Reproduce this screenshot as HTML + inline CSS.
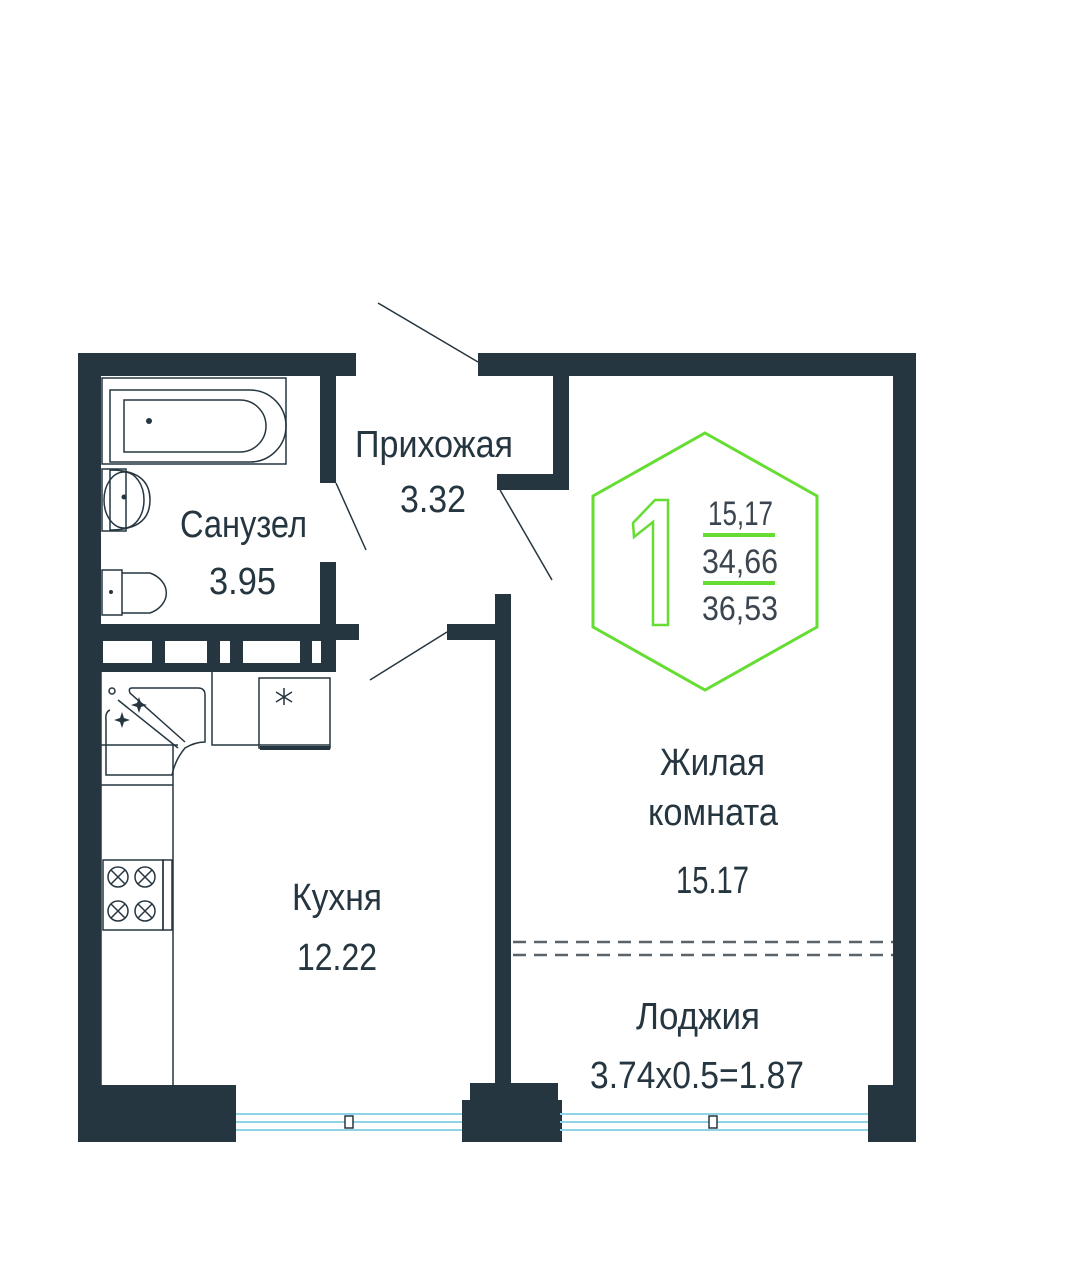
<!DOCTYPE html>
<html><head><meta charset="utf-8"><style>
html,body{margin:0;padding:0;background:#fff;}
svg{display:block}
text{font-family:"Liberation Sans Narrow","Liberation Sans",sans-serif;fill:#263640}
</style></head><body>
<svg width="1080" height="1285" viewBox="0 0 1080 1285" xmlns="http://www.w3.org/2000/svg">
<g fill="#263640">
<rect x="78" y="353" width="23" height="789"/>
<rect x="78" y="353" width="278" height="23"/>
<rect x="478" y="353" width="438" height="23"/>
<rect x="893" y="353" width="23" height="740"/>
<rect x="868" y="1085" width="48" height="57"/>
<rect x="78" y="1085" width="158" height="57"/>
<rect x="470" y="1083" width="88" height="59"/>
<rect x="462" y="1100" width="100" height="42"/>
<rect x="320" y="376" width="16" height="107"/>
<rect x="320" y="562" width="16" height="110"/>
<rect x="101" y="624" width="258" height="16"/>
<rect x="101" y="640" width="235" height="32"/>
<rect x="553" y="376" width="16" height="114"/>
<rect x="497" y="474" width="72" height="16"/>
<rect x="495" y="594" width="16" height="495"/>
<rect x="447" y="624" width="48" height="16"/>
</g>
<g fill="#fff">
<rect x="103" y="641" width="49" height="22"/>
<rect x="165" y="641" width="42" height="22"/>
<rect x="220" y="641" width="10" height="22"/>
<rect x="243" y="641" width="57" height="22"/>
<rect x="312" y="641" width="9" height="22"/>
</g>
<g stroke="#263640" stroke-width="1.5">
<line x1="378" y1="303" x2="478" y2="362"/>
<line x1="336" y1="483" x2="366" y2="550"/>
<line x1="500" y1="490" x2="552" y2="580"/>
<line x1="370" y1="680" x2="447" y2="632"/>
</g>
<g fill="none" stroke="#263640" stroke-width="1.5">
<rect x="102" y="378" width="184" height="86"/>
<path d="M110 390 H250 A36 36 0 0 1 250 462 H110 Z"/>
<path d="M124 400 H240 A26 26 0 0 1 240 452 H124 Z"/>
<rect x="102" y="469" width="24" height="62"/>
<path d="M110 470 Q150 470 150 500 Q150 530 110 530 Z"/>
<ellipse cx="124" cy="500" rx="20" ry="28"/>
<rect x="102" y="570" width="20" height="45"/>
<path d="M122 573 H150 A28 22 0 0 1 150 613 H122"/>
<path d="M101 672 V1085"/>
<path d="M173 745 V1085"/>
<path d="M101 745 H178"/>
<path d="M101 785 H173"/>
<path d="M212 672 V745 H330"/>
<rect x="259" y="678" width="71" height="70"/>
<path d="M260 748 H330" stroke-width="4"/>
<path d="M110 710 Q105 712 106 720 V775 H172 Q175 760 185 748 Q195 742 205 742 V695 Q205 688 198 688 H132 Q128 688 130 693 L185 742"/>
<path d="M118 700 L178 748"/>
<circle cx="112" cy="691" r="3"/>
<rect x="103" y="860" width="60" height="70"/>
<rect x="163" y="860" width="9" height="70"/>
<circle cx="118" cy="877" r="10"/><circle cx="145" cy="877" r="10"/>
<circle cx="118" cy="911" r="10"/><circle cx="145" cy="911" r="10"/>
<path d="M111 870 L125 884 M125 870 L111 884 M138 870 L152 884 M152 870 L138 884 M111 904 L125 918 M125 904 L111 918 M138 904 L152 918 M152 904 L138 918"/>
<path d="M284 688 V705 M276 692 L292 702 M292 692 L276 702"/>
</g>
<g fill="#263640">
<circle cx="149" cy="421" r="3"/>
<circle cx="124" cy="497" r="2.5"/>
<circle cx="111" cy="592" r="2"/>
<path d="M139 697 l2 6 6 2 -6 2 -2 6 -2 -6 -6 -2 6 -2z"/>
<path d="M122 712 l2 6 6 2 -6 2 -2 6 -2 -6 -6 -2 6 -2z"/>
</g>
<g stroke="#5a6369" stroke-width="2.5" stroke-dasharray="13 8">
<line x1="513" y1="942" x2="893" y2="942"/>
<line x1="513" y1="955" x2="893" y2="955"/>
</g>
<g stroke="#8fd3e8" stroke-width="2">
<line x1="236" y1="1114" x2="462" y2="1114"/>
<line x1="236" y1="1122" x2="462" y2="1122"/>
<line x1="236" y1="1130" x2="462" y2="1130"/>
<line x1="560" y1="1114" x2="868" y2="1114"/>
<line x1="560" y1="1122" x2="868" y2="1122"/>
<line x1="560" y1="1130" x2="868" y2="1130"/>
</g>
<rect x="345" y="1116" width="8" height="12" fill="#fff" stroke="#263640" stroke-width="1.5"/>
<rect x="709" y="1116" width="8" height="12" fill="#fff" stroke="#263640" stroke-width="1.5"/>
<g fill="none" stroke="#66dd33" stroke-width="3">
<polygon points="705,433 817,496 817,627 705,690 593,627 593,496"/>
<path d="M633 523 L655 500 H668 V625 H653 V522 L634 537 Z" stroke-width="2.5"/>
<line x1="703" y1="535" x2="775" y2="535" stroke-width="4"/>
<line x1="703" y1="583" x2="775" y2="583" stroke-width="4"/>
</g>
<g font-size="34" lengthAdjust="spacingAndGlyphs">
<text x="708" y="525" textLength="65" lengthAdjust="spacingAndGlyphs" style="fill:#3a4550">15,17</text>
<text x="702" y="573" textLength="76" lengthAdjust="spacingAndGlyphs" style="fill:#3a4550">34,66</text>
<text x="702" y="620" textLength="76" lengthAdjust="spacingAndGlyphs" style="fill:#3a4550">36,53</text>
</g>
<g font-size="38">
<text x="355" y="457" textLength="158" lengthAdjust="spacingAndGlyphs">Прихожая</text>
<text x="400" y="512" textLength="66" lengthAdjust="spacingAndGlyphs">3.32</text>
<text x="180" y="537" textLength="127" lengthAdjust="spacingAndGlyphs">Санузел</text>
<text x="209" y="594" textLength="67" lengthAdjust="spacingAndGlyphs">3.95</text>
<text x="660" y="775" textLength="105" lengthAdjust="spacingAndGlyphs">Жилая</text>
<text x="648" y="825" textLength="130" lengthAdjust="spacingAndGlyphs">комната</text>
<text x="676" y="893" textLength="73" lengthAdjust="spacingAndGlyphs">15.17</text>
<text x="292" y="910" textLength="90" lengthAdjust="spacingAndGlyphs">Кухня</text>
<text x="297" y="970" textLength="80" lengthAdjust="spacingAndGlyphs">12.22</text>
<text x="636" y="1029" textLength="124" lengthAdjust="spacingAndGlyphs">Лоджия</text>
<text x="590" y="1088" textLength="214" lengthAdjust="spacingAndGlyphs">3.74x0.5=1.87</text>
</g>
</svg>
</body></html>
